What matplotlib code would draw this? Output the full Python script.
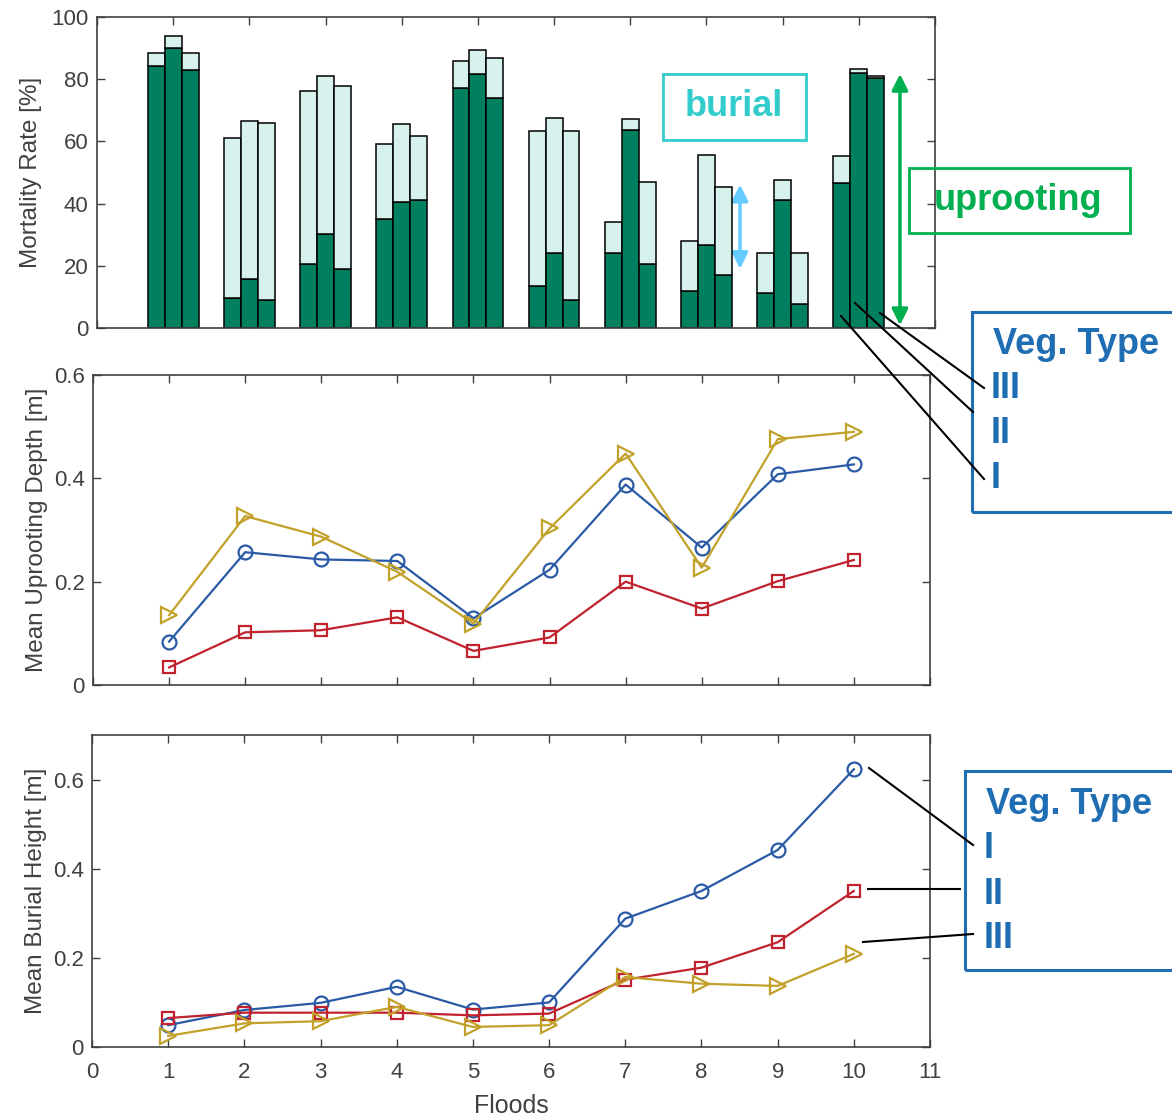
import numpy as np
import matplotlib
matplotlib.use('Agg')
import matplotlib.pyplot as plt
from matplotlib.patches import Rectangle, FancyArrowPatch
from matplotlib.lines import Line2D

plt.rcParams['font.family'] = ['Liberation Sans', 'DejaVu Sans']

floods = np.arange(1, 11)

# mortality rate [%], dark = uprooting, light (stacked on top) = burial
uproot_I = [84.1, 9.6, 20.5, 35.0, 77.3, 13.4, 24.1, 12.0, 11.4, 46.6]
uproot_II = [90.1, 15.8, 30.1, 40.5, 81.6, 24.1, 63.6, 26.6, 41.0, 82.0]
uproot_III = [82.8, 9.1, 18.9, 41.0, 73.8, 9.1, 20.5, 16.9, 7.8, 80.5]
total_I = [88.4, 61.2, 76.3, 59.3, 85.9, 63.3, 34.0, 27.9, 24.1, 55.2]
total_II = [93.9, 66.6, 80.9, 65.7, 89.5, 67.6, 67.1, 55.6, 47.7, 83.4]
total_III = [88.4, 65.9, 77.9, 61.6, 86.9, 63.3, 47.1, 45.3, 24.1, 80.9]

# mean uprooting depth [m]
depth_I = [0.084, 0.257, 0.243, 0.240, 0.129, 0.223, 0.388, 0.266, 0.408, 0.427]
depth_II = [0.034, 0.102, 0.106, 0.131, 0.066, 0.092, 0.200, 0.148, 0.201, 0.242]
depth_III = [0.135, 0.327, 0.287, 0.219, 0.119, 0.303, 0.448, 0.227, 0.476, 0.490]

# mean burial height [m]
burial_I = [0.049, 0.083, 0.099, 0.135, 0.084, 0.100, 0.288, 0.350, 0.442, 0.623]
burial_II = [0.065, 0.077, 0.077, 0.077, 0.071, 0.075, 0.151, 0.178, 0.235, 0.350]
burial_III = [0.025, 0.053, 0.058, 0.090, 0.045, 0.049, 0.157, 0.142, 0.137, 0.209]

veg_labels = ['I', 'II', 'III']

W, H = 1172, 1117
DARK = '#00805f'
LIGHT = '#d7f2ec'
C_I, C_II, C_III = '#2a5aa6', '#c0222e', '#c2a12a'
GREY = '#404040'
BLUE_BOX = '#1f6db3'


def px(x, y):
    # pixel position (from top-left) -> figure fraction
    return x / W, 1 - y / H


def style_axes(ax):
    ax.set_xlim(0, 11)
    ax.set_xticks(range(0, 12))
    ax.tick_params(direction='in', top=True, right=True, length=6, width=1,
                   colors=GREY, labelsize=16, pad=6)
    ax.tick_params(axis='x', pad=11)
    for s in ax.spines.values():
        s.set_color(GREY)
        s.set_linewidth(1.2)


fig = plt.figure(figsize=(W / 100, H / 100), dpi=100)

ax1 = fig.add_axes([97 / W, 1 - 328 / H, 838 / W, 311 / H])
ax2 = fig.add_axes([93 / W, 1 - 685 / H, 837 / W, 310 / H])
ax3 = fig.add_axes([92 / W, 1 - 1047 / H, 838 / W, 312 / H])

# --- stacked grouped bars
bw = 0.222
for off, up, tot in zip([-bw, 0, bw], [uproot_I, uproot_II, uproot_III],
                        [total_I, total_II, total_III]):
    up = np.array(up)
    bur = np.array(tot) - up
    ax1.bar(floods + off, up, bw, color=DARK, edgecolor='black', linewidth=1.1, zorder=2)
    ax1.bar(floods + off, bur, bw, bottom=up, color=LIGHT, edgecolor='black', linewidth=1.1, zorder=2)
style_axes(ax1)
ax1.set_ylim(0, 100)
ax1.set_yticks(range(0, 101, 20))
ax1.set_xticklabels([])
ax1.set_ylabel('Mortality Rate [%]', fontsize=17.5, color=GREY, labelpad=7)

# --- line panels
mk = dict(markersize=10, fillstyle='none', markeredgewidth=1.6, linewidth=1.6)
for ax, (a, b, c) in [(ax2, (depth_I, depth_II, depth_III)),
                      (ax3, (burial_I, burial_II, burial_III))]:
    ax.plot(floods, a, '-o', color=C_I, **mk)
    ax.plot(floods, b, '-s', color=C_II, **dict(mk, markersize=9))
    ax.plot(floods, c, '->', color=C_III, **dict(mk, markersize=11))
    style_axes(ax)

ax2.set_ylim(0, 0.6)
ax2.set_yticks([0, 0.2, 0.4, 0.6])
ax2.set_yticklabels(['0', '0.2', '0.4', '0.6'])
ax2.set_xticklabels([])
ax2.set_ylabel('Mean Uprooting Depth [m]', fontsize=17.5, color=GREY, labelpad=4)

ax3.set_ylim(0, 0.7)
ax3.set_yticks([0, 0.2, 0.4, 0.6])
ax3.set_yticklabels(['0', '0.2', '0.4', '0.6'])
ax3.set_xlabel('Floods', fontsize=18, color=GREY, labelpad=8)
ax3.set_ylabel('Mean Burial Height [m]', fontsize=17.5, color=GREY, labelpad=4)

# --- annotations (figure pixel coords)
tf = fig.transFigure


def box(x0, y0, x1, y1, color, lw=2):
    r = Rectangle(px(x0, y1), (x1 - x0) / W, (y1 - y0) / H, transform=tf,
                  fill=False, edgecolor=color, linewidth=lw, clip_on=False)
    fig.patches.append(r)


def seg(p, q):
    fig.lines.append(Line2D([p[0] / W, q[0] / W], [1 - p[1] / H, 1 - q[1] / H],
                            transform=tf, color='black', linewidth=1.5))


box(663, 74, 806, 140, '#33cccc')
fig.text(*px(734, 107), 'burial', color='#33cccc', fontsize=26, fontweight='bold',
         ha='center', va='center')
box(909, 168, 1130, 233, '#00b050')
fig.text(*px(1018, 201), 'uprooting', color='#00b050', fontsize=26, fontweight='bold',
         ha='center', va='center')

# double arrows in bar panel
ax1.add_patch(FancyArrowPatch((8.44, 18.1), (8.44, 47.0), arrowstyle='<|-|>',
                              mutation_scale=24, color='#66ccff', linewidth=2.5, clip_on=False))
ax1.add_patch(FancyArrowPatch((10.54, 0), (10.54, 82.6), arrowstyle='<|-|>',
                              mutation_scale=24, color='#00b050', linewidth=2.5, clip_on=False))

# veg type legend, top
box(972, 312, 1190, 512, BLUE_BOX, lw=2.2)
fig.text(*px(993, 345), 'Veg. Type', color=BLUE_BOX, fontsize=26, fontweight='bold', va='center')
for lab, y in zip(['III', 'II', 'I'], [389, 434, 479]):
    fig.text(*px(991, y), lab, color=BLUE_BOX, fontsize=26, fontweight='bold', va='center')
seg((841, 316), (984, 479))
seg((855, 303), (973, 412))
seg((880, 313), (984, 388))

# veg type legend, bottom
box(965, 771, 1190, 970, BLUE_BOX, lw=2.2)
fig.text(*px(986, 804), 'Veg. Type', color=BLUE_BOX, fontsize=26, fontweight='bold', va='center')
for lab, y in zip(veg_labels, [848, 895, 939]):
    fig.text(*px(984, y), lab, color=BLUE_BOX, fontsize=26, fontweight='bold', va='center')
seg((869, 768), (973, 845))
seg((868, 889), (960, 889))
seg((863, 942), (973, 934))

fig.savefig('out.png', dpi=100)
